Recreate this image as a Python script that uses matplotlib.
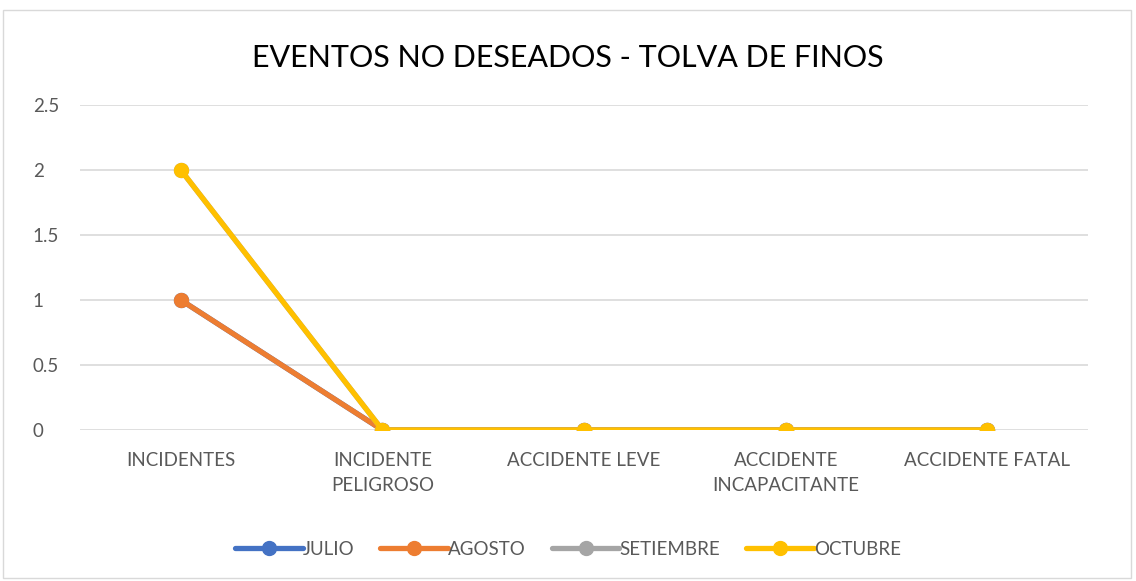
import matplotlib.pyplot as plt
import matplotlib.patches as mpatches

plt.rcParams['font.family'] = ['Lato', 'DejaVu Sans']

categorias = ['INCIDENTES', 'INCIDENTE\nPELIGROSO', 'ACCIDENTE LEVE',
              'ACCIDENTE\nINCAPACITANTE', 'ACCIDENTE FATAL']
julio = [1, 0, 0, 0, 0]
agosto = [1, 0, 0, 0, 0]
setiembre = [2, 0, 0, 0, 0]
octubre = [2, 0, 0, 0, 0]

series = [('JULIO', julio, '#4472C4'),
          ('AGOSTO', agosto, '#ED7D31'),
          ('SETIEMBRE', setiembre, '#A5A5A5'),
          ('OCTUBRE', octubre, '#FFC000')]

fig = plt.figure(figsize=(11.36, 5.81), dpi=100)
ax = fig.add_axes([0.0704, 0.2599, 0.8875, 0.5594])

x = list(range(len(categorias)))
for nombre, vals, color in series:
    ax.plot(x, vals, color=color, lw=3.8, marker='o', ms=10,
            label=nombre, solid_capstyle='round', zorder=3)

ax.set_xlim(-0.5, len(categorias) - 0.5)
ax.set_ylim(0, 2.5)
ax.set_yticks([0, 0.5, 1, 1.5, 2, 2.5])
ax.set_yticklabels(['0', '0.5', '1', '1.5', '2', '2.5'])
ax.set_xticks(x)
ax.set_xticklabels(categorias, linespacing=1.55, va='top')
ax.tick_params(axis='both', length=0, labelsize=13.5, colors='#595959')
ax.tick_params(axis='x', pad=16)
ax.tick_params(axis='y', pad=34)
for lbl in ax.get_yticklabels():
    lbl.set_horizontalalignment('left')
ax.grid(axis='y', color='#D9D9D9', lw=1.2)
ax.set_axisbelow(True)
for s in ax.spines.values():
    s.set_visible(False)

fig.text(0.5, 0.9, 'EVENTOS NO DESEADOS - TOLVA DE FINOS',
         ha='center', va='center', fontsize=22, color='#000000')

leg = fig.legend(loc='center', bbox_to_anchor=(0.5, 0.055), ncol=4,
                 frameon=False, fontsize=13.5, handlelength=3.6,
                 handletextpad=0.0, columnspacing=1.4)
for t in leg.get_texts():
    t.set_color('#595959')

fig.patches.append(mpatches.Rectangle((0.003, 0.005), 0.993, 0.977,
                                      transform=fig.transFigure,
                                      fill=False, edgecolor='#D9D9D9', lw=1))

fig.savefig('out.png', dpi=100)
